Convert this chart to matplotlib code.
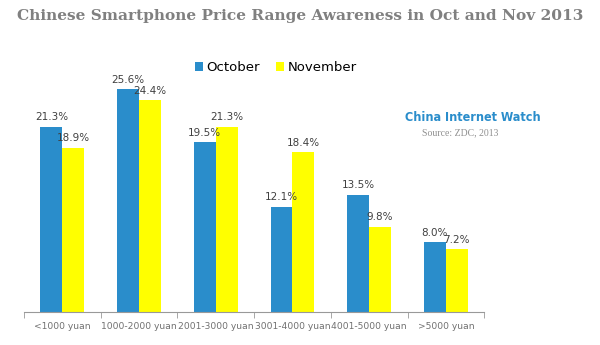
import matplotlib.pyplot as plt
import numpy as np

categories = ['<1000 yuan', '1000-2000 yuan', '2001-3000 yuan', '3001-4000 yuan',
              '4001-5000 yuan', '>5000 yuan']
october = [21.3, 25.6, 19.5, 12.1, 13.5, 8.0]
november = [18.9, 24.4, 21.3, 18.4, 9.8, 7.2]

oct_color = '#2a8dcb'
nov_color = '#ffff00'

fig = plt.figure(figsize=(6, 3.45), dpi=100)
ax = fig.add_axes([0.04, 0.0957, 0.767, 0.756])

x = np.arange(len(categories))
w = 0.286
b1 = ax.bar(x - w / 2, october, w, color=oct_color, label='October')
b2 = ax.bar(x + w / 2, november, w, color=nov_color, label='November')

for bars in (b1, b2):
    for bar in bars:
        h = bar.get_height()
        ax.text(bar.get_x() + bar.get_width() / 2, h + 0.5, f'{h:.1f}%',
                ha='center', va='bottom', fontsize=7.5, color='#404040')

ax.set_xlim(-0.5, len(categories) - 0.5)
ax.set_ylim(0, 30)
ax.set_yticks([])
for s in ['top', 'right', 'left']:
    ax.spines[s].set_visible(False)
ax.spines['bottom'].set_color('#999999')

ax.set_xticks(x)
ax.set_xticklabels(categories, fontsize=6.6, color='#707070')
ax.tick_params(axis='x', which='major', length=0, pad=7)
ax.set_xticks(np.arange(-0.5, len(categories)), minor=True)
ax.tick_params(axis='x', which='minor', length=4, color='#999999')

leg = ax.legend(loc='upper left', bbox_to_anchor=(0.345, 1.007), ncol=2, frameon=False,
                fontsize=9.5, handlelength=0.6, handleheight=0.6, handletextpad=0.3,
                columnspacing=1.2)

fig.text(0.5, 0.955, 'Chinese Smartphone Price Range Awareness in Oct and Nov 2013',
         ha='center', va='center', fontsize=11.1, fontweight='bold',
         family='DejaVu Serif', color='#808080')
fig.text(0.675, 0.66, 'China Internet Watch', ha='left', va='center', fontsize=9,
         fontweight='bold', family='DejaVu Sans', stretch='condensed', color=oct_color)
fig.text(0.703, 0.615, 'Source: ZDC, 2013', ha='left', va='center', fontsize=7,
         family='Liberation Serif', color='#909090')

fig.savefig('out.png', dpi=100)
